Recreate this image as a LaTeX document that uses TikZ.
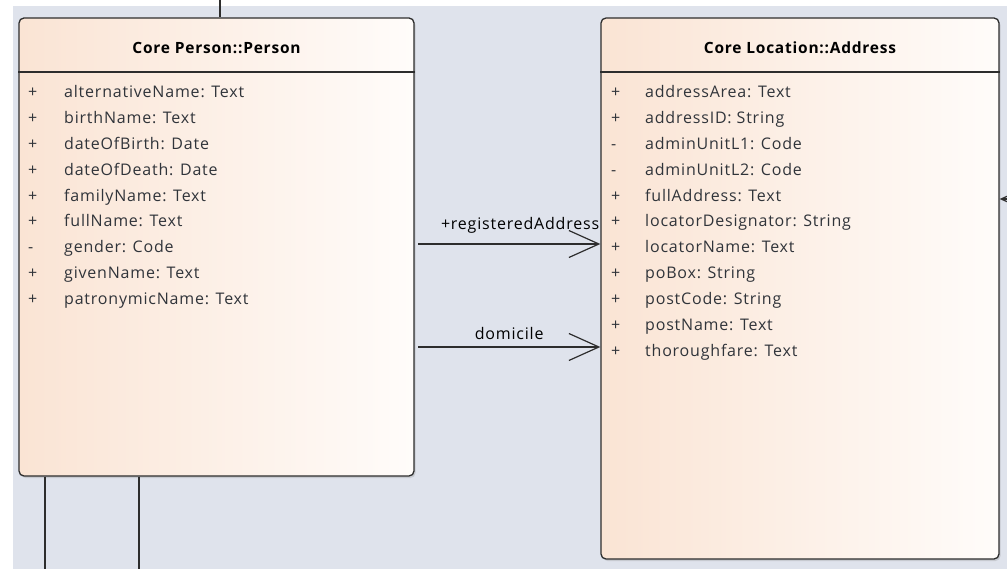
\documentclass[tikz,border=0pt]{standalone}
\usepackage{fontspec}
\setmainfont{Open Sans}[LetterSpace=5]
\usetikzlibrary{positioning, arrows.meta, calc, shadows}
\definecolor{CanvasColor}{RGB}{223,227,236}
\definecolor{BoxLeft}{RGB}{250,228,212}
\definecolor{BoxRight}{RGB}{255,252,250}
\definecolor{BorderColor}{RGB}{45,45,45}
\definecolor{AttrColor}{RGB}{48,52,58}
\tikzset{
  classbox/.style={rectangle, rounded corners=5pt, draw=BorderColor, line width=1.3pt,
    left color=BoxLeft, right color=BoxRight,
    drop shadow={shadow xshift=1.5pt, shadow yshift=-2pt, opacity=0.25}},
  classname/.style={font=\fontsize{15.5}{17}\selectfont\bfseries, text=black},
  attr/.style={anchor=base west, inner sep=0pt, font=\fontsize{16}{18}\selectfont, text=AttrColor},
  assoc/.style={line width=1.2pt, BorderColor, -{Straight Barb[length=30pt, width=27pt, line width=1.2pt]}},
  rolelabel/.style={font=\fontsize{16}{18}\selectfont, text=black, inner sep=2pt},
  link/.style={line width=1.2pt, BorderColor}
}
\begin{document}
\begin{tikzpicture}[x=1pt, y=-1pt]
  \useasboundingbox (0,0) rectangle (1007,569);
  \clip (0,0) rectangle (1007,569);
  % canvas
  \fill[white] (0,0) rectangle (1007,569);
  \fill[CanvasColor] (13,6) rectangle (1007,569);

  % classes
  \node[classbox, minimum width=395pt, minimum height=458pt] (person) at (216.5,247) {};
  \node[classbox, minimum width=398pt, minimum height=541pt] (address) at (800,288.5) {};

  \draw[link] (person.west |- 0,72) -- (person.east |- 0,72);
  \draw[link] (address.west |- 0,72) -- (address.east |- 0,72);
  \node[classname] (personname) at (216.5,48) {Core Person::Person};
  \node[classname] (addressname) at (800,48) {Core Location::Address};

  % attributes
  \foreach \vis/\txt [count=\i from 0] in {+/alternativeName: Text, +/birthName: Text,
      +/dateOfBirth: Date, +/dateOfDeath: Date, +/familyName: Text, +/fullName: Text,
      -/gender: Code, +/givenName: Text, +/patronymicName: Text}{
    \node[attr] (pvis\i) at (28,97.5+25.9*\i) {\vis};
    \node[attr] (pattr\i) at (64,97.5+25.9*\i) {\txt};
  }
  \foreach \vis/\txt [count=\i from 0] in {+/addressArea: Text, +/addressID: String,
      -/adminUnitL1: Code, -/adminUnitL2: Code, +/fullAddress: Text,
      +/locatorDesignator: String, +/locatorName: Text, +/poBox: String,
      +/postCode: String, +/postName: Text, +/thoroughfare: Text}{
    \node[attr] (avis\i) at (611,97.5+25.9*\i) {\vis};
    \node[attr] (aattr\i) at (645,97.5+25.9*\i) {\txt};
  }

  % associations
  \coordinate (regstart) at (418,244);
  \coordinate (domstart) at (418,347);
  \draw[assoc] (regstart) -- (regstart -| address.west)
    node[rolelabel, pos=0.56, above=8pt] (reglabel) {+registeredAddress};
  \draw[assoc] (domstart) -- (domstart -| address.west)
    node[rolelabel, pos=0.5, above=5pt] (domlabel) {domicile};
  \coordinate (rightin) at (1040,199);
  \draw[assoc] (rightin) -- (rightin -| address.east);

  % links leaving the picture
  \coordinate (toptop) at (220,0);
  \coordinate (botA) at (45,569);
  \coordinate (botB) at (139,569);
  \draw[link] (toptop) -- (toptop |- person.north);
  \draw[link] (botA |- person.south) -- (botA);
  \draw[link] (botB |- person.south) -- (botB);
\end{tikzpicture}
\end{document}
